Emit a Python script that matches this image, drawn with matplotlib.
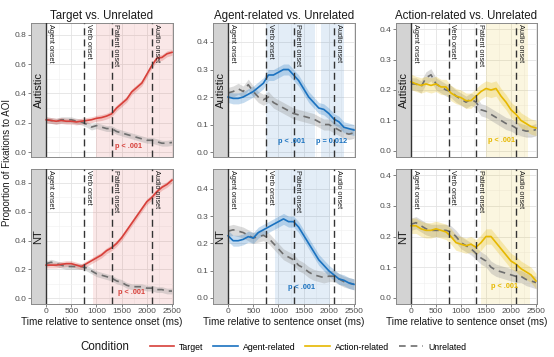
import numpy as np
import matplotlib
matplotlib.use("Agg")
import matplotlib.pyplot as plt
from matplotlib.lines import Line2D

plt.rcParams['font.family'] = ['Liberation Sans', 'DejaVu Sans']

times = list(range(0, 2600, 100))

# --- data (proportions) ---
tgt_aut = [0.22,0.215,0.21,0.215,0.21,0.21,0.205,0.21,0.215,0.22,0.23,0.235,0.245,0.26,0.30,0.33,0.36,0.41,0.44,0.47,0.53,0.59,0.64,0.645,0.67,0.68]
unr_tgt_aut = [0.22,0.215,0.21,0.22,0.22,0.22,0.21,0.205,0.19,0.17,0.18,0.17,0.16,0.16,0.14,0.13,0.12,0.11,0.10,0.09,0.08,0.08,0.07,0.06,0.06,0.065]
tgt_nt = [0.23,0.23,0.23,0.235,0.24,0.24,0.23,0.22,0.24,0.26,0.28,0.30,0.33,0.35,0.38,0.42,0.47,0.52,0.57,0.62,0.67,0.70,0.74,0.77,0.79,0.82]
unr_tgt_nt = [0.24,0.25,0.24,0.23,0.22,0.22,0.22,0.22,0.21,0.19,0.17,0.16,0.15,0.14,0.12,0.11,0.09,0.08,0.08,0.08,0.07,0.07,0.06,0.06,0.05,0.05]

agt_aut = [0.20,0.195,0.195,0.20,0.21,0.22,0.235,0.25,0.28,0.28,0.29,0.30,0.30,0.28,0.26,0.23,0.20,0.18,0.16,0.155,0.14,0.12,0.11,0.09,0.085,0.08]
unr_agt_aut = [0.215,0.22,0.23,0.22,0.245,0.22,0.20,0.19,0.20,0.18,0.17,0.16,0.15,0.14,0.135,0.13,0.125,0.12,0.11,0.10,0.10,0.09,0.08,0.07,0.065,0.07]
agt_nt = [0.228,0.21,0.21,0.215,0.225,0.22,0.24,0.25,0.26,0.27,0.28,0.29,0.28,0.28,0.26,0.23,0.20,0.17,0.14,0.12,0.10,0.085,0.07,0.065,0.055,0.05]
unr_agt_nt = [0.245,0.25,0.245,0.24,0.23,0.22,0.225,0.23,0.22,0.20,0.18,0.16,0.15,0.14,0.12,0.11,0.095,0.085,0.08,0.075,0.08,0.08,0.07,0.06,0.055,0.05]

act_aut = [0.227,0.22,0.215,0.22,0.215,0.22,0.21,0.21,0.19,0.18,0.175,0.165,0.165,0.18,0.195,0.205,0.20,0.205,0.18,0.16,0.135,0.12,0.10,0.09,0.08,0.075]
unr_act_aut = [0.22,0.22,0.21,0.24,0.25,0.22,0.21,0.20,0.195,0.18,0.17,0.16,0.17,0.16,0.135,0.13,0.12,0.11,0.10,0.09,0.085,0.075,0.07,0.065,0.065,0.07]
act_nt = [0.235,0.235,0.225,0.22,0.22,0.225,0.22,0.215,0.20,0.18,0.175,0.17,0.175,0.165,0.18,0.20,0.20,0.18,0.16,0.14,0.12,0.11,0.095,0.085,0.075,0.055]
unr_act_nt = [0.24,0.245,0.235,0.225,0.22,0.22,0.22,0.22,0.215,0.20,0.18,0.17,0.16,0.145,0.13,0.12,0.10,0.09,0.085,0.08,0.075,0.07,0.07,0.06,0.055,0.05]

ci_target = 0.02
ci_agent = 0.02
ci_action = 0.025
ci_unrel = 0.02

onsets = [0, 750, 1300, 2100]
onset_labels = ["Agent onset", "Verb onset", "Patient onset", "Audio onset"]

titles = ["Target vs. Unrelated", "Agent-related vs. Unrelated", "Action-related vs. Unrelated"]
groups = ["Autistic", "NT"]
cond_names = ["Target", "Agent-related", "Action-related", "Unrelated"]

# significance windows (ms) and p-value labels
sig = {
    (0, 0): [(1000, 2520)],
    (1, 0): [(930, 2520)],
    (0, 1): [(750, 1730), (1840, 2295)],
    (1, 1): [(935, 2030)],
    (0, 2): [(1505, 2330)],
    (1, 2): [(1405, 2375)],
}
plabels = {
    (0, 0): [("p < .001", 1640, 0.04)],
    (1, 0): [("p < .001", 1700, 0.04)],
    (0, 1): [("p < .001", 1250, 0.04), ("p = 0.012", 2060, 0.04)],
    (1, 1): [("p < .001", 1450, 0.039)],
    (0, 2): [("p < .001", 1820, 0.033)],
    (1, 2): [("p < .001", 1870, 0.037)],
}

colors = ["#d7403a", "#1a72c0", "#e6b800"]
unrel_color = "#6e6e6e"

series = {
    (0, 0): (tgt_aut, unr_tgt_aut, ci_target),
    (1, 0): (tgt_nt, unr_tgt_nt, ci_target),
    (0, 1): (agt_aut, unr_agt_aut, ci_agent),
    (1, 1): (agt_nt, unr_agt_nt, ci_agent),
    (0, 2): (act_aut, unr_act_aut, ci_action),
    (1, 2): (act_nt, unr_act_nt, ci_action),
}

ylims = {
    (0, 0): (-0.034, 0.88), (1, 0): (-0.04, 0.897),
    (0, 1): (-0.018, 0.469), (1, 1): (-0.022, 0.473),
    (0, 2): (-0.02, 0.42), (1, 2): (-0.02, 0.42),
}
yticks = {0: [0.0, 0.2, 0.4, 0.6, 0.8], 1: [0.0, 0.1, 0.2, 0.3, 0.4], 2: [0.0, 0.1, 0.2, 0.3, 0.4]}

W, H = 554, 357
fig = plt.figure(figsize=(W / 100, H / 100), dpi=100)

col_px = [(31, 173), (213, 355), (396, 537)]
row_px = [(23, 157), (169, 304)]

t = np.array(times)
for r in range(2):
    for c in range(3):
        x0, x1 = col_px[c]
        y0, y1 = row_px[r]
        ax = fig.add_axes([x0 / W, 1 - y1 / H, (x1 - x0) / W, (y1 - y0) / H])
        ax.set_xlim(-300, 2520)
        ylo, yhi = ylims[(r, c)]
        ax.set_ylim(ylo, yhi)
        ax.set_facecolor("white")
        ax.set_xticks([0, 500, 1000, 1500, 2000, 2500])
        ax.set_xticks([250, 750, 1250, 1750, 2250], minor=True)
        yt = yticks[c]
        ax.set_yticks(yt)
        ax.set_yticks([v + (yt[1] - yt[0]) / 2 for v in yt[:-1]], minor=True)
        ax.grid(which="major", color="#e3e3e3", linewidth=0.6, zorder=0)
        ax.grid(which="minor", color="#f0f0f0", linewidth=0.4, zorder=0)
        ax.set_axisbelow(True)
        col = colors[c]
        for (a, b) in sig[(r, c)]:
            ax.axvspan(a, b, color=col, alpha=0.12, lw=0, zorder=1)
        # strip
        ax.axvspan(-300, 0, color="#d3d3d3", lw=0, zorder=2)
        ax.text(-150, (ylo + yhi) / 2, groups[r], rotation=90, ha="center", va="center",
                fontsize=8, color="#1a1a1a", zorder=3)
        # onset lines
        for o, lab in zip(onsets, onset_labels):
            ax.axvline(o, color="#333333", lw=1.0, ls=(0, (5, 3)) if o > 0 else "-", zorder=5)
            ax.text(o + 15, yhi - (yhi - ylo) * 0.01, lab,
                    rotation=270, ha="left", va="top", fontsize=5.2, color="#1a1a1a", zorder=6)
        # series
        main, unr, ci = series[(r, c)]
        main = np.array(main)
        unr = np.array(unr)
        ax.fill_between(t, unr - ci_unrel, unr + ci_unrel, color="#9a9a9a", alpha=0.35, lw=0, zorder=3)
        ax.fill_between(t, main - ci, main + ci, color=col, alpha=0.25, lw=0, zorder=3)
        ax.plot(t, unr, color=unrel_color, lw=1.2, ls=(0, (4, 3)), zorder=4)
        ax.plot(t, main, color=col, lw=1.2, zorder=4)
        for (txt, px, py) in plabels[(r, c)]:
            ax.text(px, py, txt, color=col, fontsize=5.3, fontweight="bold", ha="center", va="center", zorder=6)
        for s in ax.spines.values():
            s.set_color("#8a8a8a")
            s.set_linewidth(0.7)
        ax.tick_params(which="major", axis="both", length=2, color="#4d4d4d", width=0.5,
                       labelsize=6, labelcolor="#4d4d4d", pad=1.5)
        ax.tick_params(which="minor", length=0)
        ax.set_yticklabels([f"{v:.1f}" for v in yt])
        if r == 0:
            ax.set_title(titles[c], fontsize=8.3, pad=3, color="#1a1a1a")
            ax.tick_params(axis="x", labelbottom=False, length=0)
        else:
            ax.set_xticklabels(["0", "500", "1000", "1500", "2000", "2500"])
            ax.tick_params(axis="x", pad=1)
            ax.set_xlabel("Time relative to sentence onset (ms)", fontsize=7.2, labelpad=1, color="#1a1a1a")

fig.text(7 / W, 1 - 163 / H, "Proportion of Fixations to AOI", rotation=90, ha="center", va="center",
         fontsize=7, color="#1a1a1a")

# legend
fig.text(105 / W, 1 - 347 / H, "Condition", ha="center", va="center", fontsize=8.3, color="#1a1a1a")
handles = [Line2D([], [], color=colors[0], lw=1.2),
           Line2D([], [], color=colors[1], lw=1.2),
           Line2D([], [], color=colors[2], lw=1.2),
           Line2D([], [], color=unrel_color, lw=1.2, ls=(0, (4, 3)))]
fig.legend(handles, cond_names, loc="center", bbox_to_anchor=(308 / W, 1 - 347 / H), ncol=4,
           frameon=False, fontsize=6.3, handlelength=2.8, columnspacing=1.1, handletextpad=0.6)

fig.savefig("out.png", dpi=100)
